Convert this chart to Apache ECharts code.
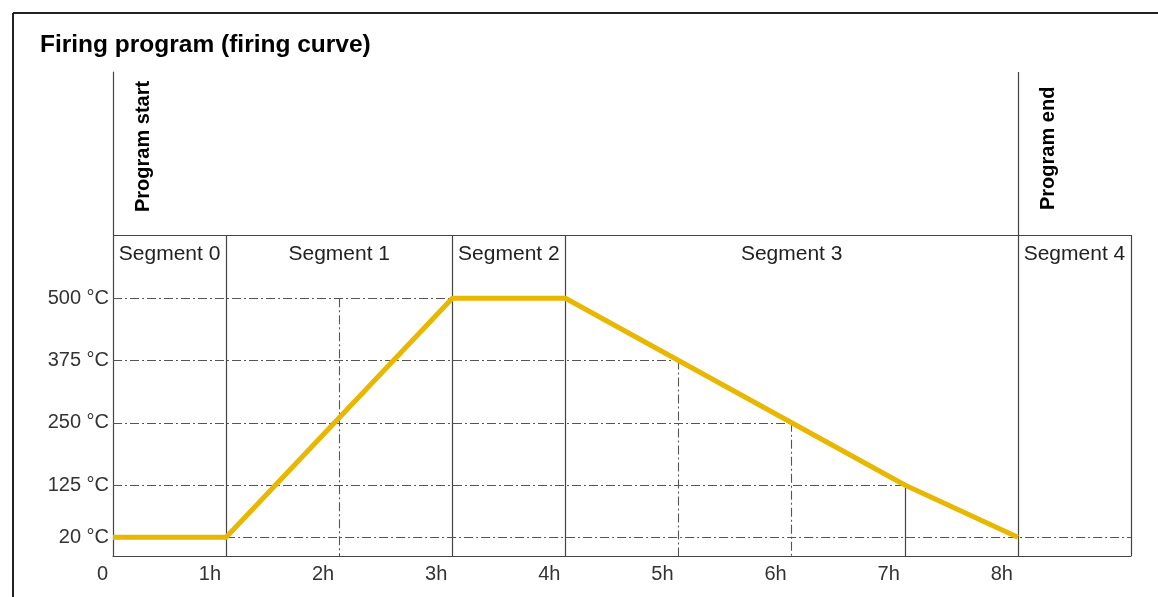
<!DOCTYPE html>
<html>
<head>
<meta charset="utf-8">
<title>Firing program (firing curve)</title>
<script src="https://cdn.jsdelivr.net/npm/echarts@6/dist/echarts.min.js"></script>
<style>
  html, body { margin: 0; padding: 0; background: #fff; }
  #chart { width: 1158px; height: 597px; }
</style>
</head>
<body>
<div id="chart"></div>
<script>
// firing curve: hours vs temperature
const hours = [0, 1, 3, 4, 5, 6, 7, 8]
const temps = [20, 20, 500, 500, 375, 250, 125, 20]

// axis ticks
const xTicks = [0, 1, 2, 3, 4, 5, 6, 7, 8]
const yTicks = [20, 125, 250, 375, 500]

// segment boxes (hour boundaries) and names
const segBounds = [0, 1, 3, 4, 8, 9]
const segNames = ['Segment 0', 'Segment 1', 'Segment 2', 'Segment 3', 'Segment 4']

// dash-dot guides: level -> hour where the curve meets it
const guideLevels = [500, 375, 250, 125]
const guideHours = [3, 5, 6, 7]
// vertical dashed guides at these hours from these temperatures
const vGuideHours = [2, 5, 6]
const vGuideTemps = [500, 375, 250]

const yMin = -17.6
const yMax = 954.5
const headerTemp = 627   // top of the segment header row

const font = "'Liberation Sans', Arial, sans-serif"
const dashDot = { type: [9, 3, 2, 3], color: '#555', width: 1.1 }
const solid = { type: 'solid', color: '#444', width: 1.2 }

function seg(x1, y1, x2, y2, style) {
  return [{ coord: [x1, y1], lineStyle: style }, { coord: [x2, y2] }]
}

let lines = []
// header row line
lines.push(seg(0, headerTemp, 9, headerTemp, solid))
// segment boundaries
segBounds.forEach(h => {
  if (h === 0) return
  let top = h === 8 ? yMax : headerTemp
  lines.push(seg(h, top, h, yMin, solid))
})
// horizontal dash-dot guides
guideLevels.forEach((t, i) => lines.push(seg(0, t, guideHours[i], t, dashDot)))
lines.push(seg(1, 20, 9, 20, dashDot))
// vertical dashed guides
vGuideHours.forEach((h, i) => lines.push(seg(h, vGuideTemps[i], h, yMin, dashDot)))
// solid mark at 7h (end of first part of segment 3)
lines.push(seg(7, 125, 7, yMin, solid))

let areas = segNames.map((n, i) => [
  { name: n, coord: [segBounds[i], headerTemp] },
  { coord: [segBounds[i + 1], 500] }
])

let chart = echarts.init(document.getElementById('chart'))
chart.setOption({
  animation: false,
  textStyle: { fontFamily: font },
  grid: { left: 113, right: 27, top: 72, bottom: 41 },
  xAxis: {
    type: 'value',
    min: 0,
    max: 9,
    axisLine: { show: true, onZero: false, lineStyle: { color: '#444', width: 1.2 } },
    axisTick: { show: false },
    splitLine: { show: false },
    axisLabel: {
      customValues: xTicks,
      align: 'right',
      padding: [0, 5, 0, 0],
      margin: 8,
      fontSize: 20,
      color: '#333',
      fontFamily: font,
      formatter: v => v === 0 ? '0' : v + 'h'
    }
  },
  yAxis: {
    type: 'value',
    min: yMin,
    max: yMax,
    axisLine: { show: true, lineStyle: { color: '#444', width: 1.2 } },
    axisTick: { show: false },
    splitLine: { show: false },
    axisLabel: {
      customValues: yTicks,
      margin: 4,
      fontSize: 20,
      color: '#333',
      fontFamily: font,
      formatter: v => v + ' °C'
    }
  },
  graphic: [
    { type: 'line', shape: { x1: 13, y1: 13, x2: 13, y2: 597 }, style: { stroke: '#222', lineWidth: 2 } },
    { type: 'line', shape: { x1: 13, y1: 13, x2: 1158, y2: 13 }, style: { stroke: '#222', lineWidth: 2 } },
    {
      type: 'text', left: 40, top: 33,
      style: { text: 'Firing program (firing curve)', font: 'bold 24.5px ' + font, fill: '#000' }
    },
    {
      type: 'text', x: 143, y: 212, rotation: Math.PI / 2,
      style: { text: 'Program start', font: 'bold 20px ' + font, fill: '#000', textAlign: 'left', textVerticalAlign: 'middle' }
    },
    {
      type: 'text', x: 1048, y: 210, rotation: Math.PI / 2,
      style: { text: 'Program end', font: 'bold 20px ' + font, fill: '#000', textAlign: 'left', textVerticalAlign: 'middle' }
    }
  ],
  series: [
    {
      name: 'Firing curve',
      type: 'line',
      data: hours.map((h, i) => [h, temps[i]]),
      symbol: 'none',
      z: 5,
      lineStyle: { color: '#e8b700', width: 5, join: 'round' },
      markLine: {
        silent: true,
        symbol: ['none', 'none'],
        label: { show: false },
        z: 2,
        data: lines
      },
      markArea: {
        silent: true,
        itemStyle: { color: 'rgba(0,0,0,0)' },
        label: {
          show: true,
          position: 'insideTop',
          distance: 9,
          fontSize: 21,
          color: '#222',
          fontFamily: font
        },
        data: areas
      }
    }
  ]
})
</script>
</body>
</html>
